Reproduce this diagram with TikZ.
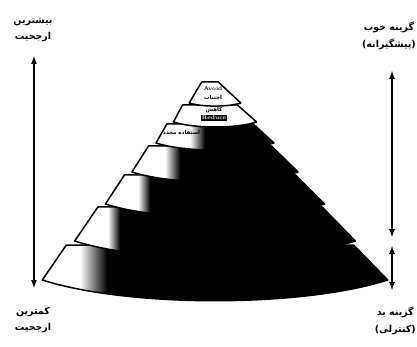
\documentclass[tikz,border=0pt]{standalone}
\usepackage{fontspec}
\newfontfamily\persfont[Script=Arabic]{DejaVu Sans Bold}
\TeXXeTstate=1
\usetikzlibrary{arrows.meta,calc}

\newcommand{\fatxt}[1]{{\persfont\beginR #1\endR}}

\tikzset{
  lbl/.style={font=\fontsize{9.5}{16.5}\selectfont, align=center, inner sep=0pt},
  tiny/.style={font=\fontsize{5.5}{6}\selectfont\bfseries, inner sep=0pt},
  twoway/.style={{Latex[length=9pt,width=6pt]}-{Latex[length=9pt,width=6pt]}, line width=2pt},
  tierline/.style={line width=1.5pt, line join=round}
}

\begin{document}
\begin{tikzpicture}[x=1pt, y=-1pt, line cap=round, line join=round]
  \useasboundingbox (0,0) rectangle (417,347);

  % Pyramid tiers, bottom first (top y / bottom y / end of white / gradient)
  \foreach \ty/\by/\wx/\gx in {245/280/80/27, 207/241/108/12, 175/204/138/12,
      146/172/165/15, 124/143/190/15, 105/122/400/1, 82/103/400/1} {
    \pgfmathsetmacro{\hwt}{15+0.83*(\ty-90)}
    \pgfmathsetmacro{\hwb}{15+0.83*(\by-90)}
    \pgfmathsetmacro{\cy}{\by+0.16*\hwb}
    \coordinate (TL) at ({210-\hwt},\ty);
    \coordinate (TR) at ({210+\hwt},\ty);
    \coordinate (BL) at ({215-\hwb},\by);
    \coordinate (BR) at ({215+\hwb},\by);
    \begin{scope}
      \clip (TL) -- (TR) -- (BR) .. controls ({215+0.5*\hwb},\cy) and ({215-0.5*\hwb},\cy) .. (BL) -- cycle;
      \fill[black] (0,0) rectangle (417,347);
      \fill[white] (0,{\ty-3}) rectangle (\wx,{\by+40});
      \shade[left color=white, right color=black] (\wx,{\ty-3}) rectangle ({\wx+\gx},{\by+40});
    \end{scope}
    \draw[tierline] (TL) -- (TR) -- (BR) .. controls ({215+0.5*\hwb},\cy) and ({215-0.5*\hwb},\cy) .. (BL) -- cycle;
  }

  % Texts on the tiers
  \node[tiny] (avoid) at (213,89) {Avoid};
  \node[tiny] (ejtenab) at (213,98) {\fatxt{اجتناب}};
  \node[tiny] (kahesh) at (214,110) {\fatxt{کاهش}};
  \node[tiny, fill=black, text=white, inner sep=1pt] (reduce) at (214,118) {Reduce};
  \node[tiny, anchor=west] (reuse) at (163,133) {\fatxt{استفاده مجدد}};

  % Side labels
  \node[lbl] (mostL) at (33,30) {\fatxt{بیشترین}\\\fatxt{ارجحیت}};
  \node[lbl] (leastL) at (33,320) {\fatxt{کمترین}\\\fatxt{ارجحیت}};
  \node[lbl, anchor=east] (goodL) at (416,36) {\fatxt{گزینه خوب}\\\fatxt{(پیشگیرانه)}};
  \node[lbl, anchor=east] (badL) at (416,321) {\fatxt{گزینه بد}\\\fatxt{(کنترلی)}};

  % Arrows
  \coordinate (mostTip) at (34,55);
  \coordinate (leastTip) at (34,289);
  \draw[twoway] (mostTip) -- (leastTip);

  \coordinate (goodTip) at (392,70);
  \coordinate (midUp) at (392,238);
  \coordinate (midDn) at (392,245);
  \coordinate (badTip) at (392,291);
  \draw[twoway] (goodTip) -- (midUp);
  \draw[twoway] (midDn) -- (badTip);
\end{tikzpicture}
\end{document}
